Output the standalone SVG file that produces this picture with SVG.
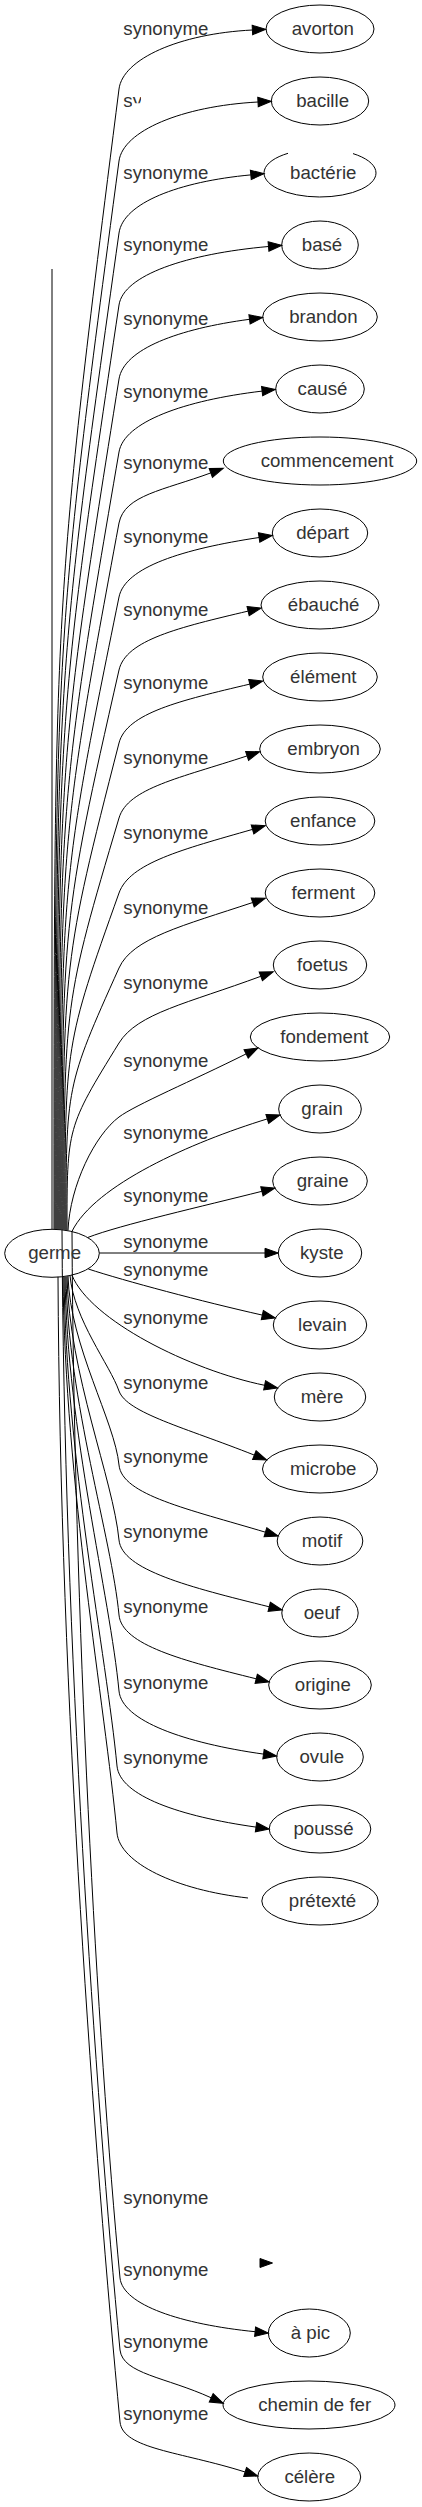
<svg xmlns="http://www.w3.org/2000/svg" width="422" height="2507" viewBox="0 0 422 2507">
<style>
.e{fill:none;stroke:#000;stroke-width:1}
.a{marker-end:url(#arr)}
.n{fill:none;stroke:#000;stroke-width:1}
.t{font-family:"Liberation Sans",Arial,sans-serif;font-size:18.67px;fill:#333;text-anchor:middle}
.l{font-family:"Liberation Sans",Arial,sans-serif;font-size:18.67px;fill:#333;text-anchor:start}
</style>
<defs>
<marker id="arr" viewBox="0 0 13.3 9.4" refX="0" refY="4.7" markerWidth="13.3" markerHeight="9.4" orient="auto" markerUnits="userSpaceOnUse" overflow="visible">
<path d="M0,0 L13.3,4.7 L0,9.4 Z" fill="#000" stroke="#000" stroke-width="1"/>
</marker>
<clipPath id="clipSy"><path d="M118,88 H141 V103.3 H132.4 V112 H118 Z"/></clipPath>
</defs>
<rect width="422" height="2507" fill="#fff"/>
<g id="connectors">
<path class="e" d="M52,269 L52,1229"/>
<path class="e a" d="M54,1229 C54,602 54,602 119,89 C122.8,59 179.1,33.7 252.4,30"/>
<path class="e a" d="M55,1229 C55,641.6 55,641.6 119,161 C123,131 181.6,106.1 258,102"/>
<path class="e a" d="M56,1229 C56,681.2 56,681.2 119,233 C123.2,203 178.6,181.6 250.8,174.9"/>
<path class="e a" d="M57,1229.1 C57,720.9 57,720.9 119,305 C123.5,275 186.6,253.8 268.5,246.5"/>
<path class="e a" d="M58,1229.2 C58,761.7 58,761.7 119,379 C123.8,349 178.3,328.8 249.5,319.3"/>
<path class="e a" d="M59,1229.3 C59,801.9 59,801.9 119,452 C124.1,422 183.9,400.4 262.1,391.1"/>
<path class="e a" d="M60,1229.4 C60,841.1 60,841.1 119,523 C124.6,495 163.4,490.4 210.8,472.9"/>
<path class="e a" d="M61,1229.4 C61,881.8 61,881.8 119,597 C125.1,567 183,549 259.1,537.5"/>
<path class="e a" d="M62,1229.5 C62,921.5 62,921.5 119,670 C125.8,640 179,627.4 248.1,611.1"/>
<path class="e a" d="M63,1229.7 C63,961.8 63,961.8 119,743 C126.7,713 180.3,700.5 249.8,684.1"/>
<path class="e a" d="M64,1229.8 C64,1003.2 64,1003.2 119,818 C127.9,788 180.2,778 247.1,755.9"/>
<path class="e a" d="M65,1229.9 C65,1044.5 65,1044.5 119,893 C129.7,863 181.9,849.6 252.5,829.4"/>
<path class="e a" d="M66,1230.1 C66,1086 66,1086 119,968 C132.5,938 183,925.7 252.7,902.5"/>
<path class="e a" d="M67,1230.2 C67,1127.3 67,1127.3 119,1043 C137.6,1013 187.6,1003.4 260.8,976.3"/>
<path class="e a" d="M68,1230.4 C70,1185 95,1135 119,1117 C135,1105 192.5,1080.7 246.1,1053.9"/>
<path class="e a" d="M72,1231.3 C95,1185 190.8,1142.4 267.3,1118.9"/>
<path class="e a" d="M88,1237.4 C120,1225 203.8,1206 261.9,1191.3"/>
<path class="e a" d="M99.3,1253 L265,1253"/>
<path class="e a" d="M88.3,1269 C125,1281 201.9,1301.5 262.3,1315.1"/>
<path class="e a" d="M72,1275.2 C90,1320 190,1370 264.6,1385.3"/>
<path class="e a" d="M70,1275.6 C74,1320 110,1365 119,1391 C127,1413 185.1,1427.6 254.3,1455.1"/>
<path class="e a" d="M68,1276 C70,1345.9 114.9,1421.5 119,1465 C121.9,1495 188.3,1509.1 265.4,1532.2"/>
<path class="e a" d="M67,1276.4 C69,1373.9 113.2,1479.4 119,1540 C121.9,1570 189.1,1587 269.2,1606.8"/>
<path class="e a" d="M66,1276.6 C68,1401.8 111.6,1537.2 119,1615 C121.9,1645 183,1660.7 256.2,1678.8"/>
<path class="e a" d="M65,1276.8 C67,1430.1 110,1595.7 119,1691 C121.9,1721 184.8,1743 263.5,1754.1"/>
<path class="e a" d="M64,1277 C66,1457.9 106.3,1653.5 117,1766 C119.9,1796 180.3,1816.4 256,1827.1"/>
<path class="e" d="M63,1277 C65,1482.7 104.9,1705.1 117,1833 C119.9,1863 176,1890 248,1898"/>
<polygon points="260,2258.5 272.5,2263 260,2267.5" fill="#000" stroke="#000" stroke-width="1"/>
<path class="e a" d="M72,1231.3 C74,1618.7 97.1,2037.2 120,2278 C122.9,2305 181.2,2324.3 255.1,2331.7"/>
<path class="e a" d="M62,1229.5 C64,1644.1 95.5,2092.3 120,2350 C122.9,2374 165.6,2377 211.2,2397.8"/>
<path class="e a" d="M58,1276.8 C60,1700.5 95,2158.6 120,2422 C122.9,2449 179.7,2451.4 245.1,2472"/>
</g>
<g id="edge-labels">
<text class="l" x="123.3" y="35">synonyme</text>
<text class="l" x="123.3" y="107" clip-path="url(#clipSy)">sy</text>
<text class="l" x="123.3" y="179">synonyme</text>
<text class="l" x="123.3" y="251">synonyme</text>
<text class="l" x="123.3" y="325">synonyme</text>
<text class="l" x="123.3" y="398">synonyme</text>
<text class="l" x="123.3" y="469">synonyme</text>
<text class="l" x="123.3" y="543">synonyme</text>
<text class="l" x="123.3" y="616">synonyme</text>
<text class="l" x="123.3" y="689">synonyme</text>
<text class="l" x="123.3" y="764">synonyme</text>
<text class="l" x="123.3" y="839">synonyme</text>
<text class="l" x="123.3" y="914">synonyme</text>
<text class="l" x="123.3" y="989">synonyme</text>
<text class="l" x="123.3" y="1067">synonyme</text>
<text class="l" x="123.3" y="1139">synonyme</text>
<text class="l" x="123.3" y="1202">synonyme</text>
<text class="l" x="123.3" y="1248">synonyme</text>
<text class="l" x="123.3" y="1276">synonyme</text>
<text class="l" x="123.3" y="1324">synonyme</text>
<text class="l" x="123.3" y="1389">synonyme</text>
<text class="l" x="123.3" y="1463">synonyme</text>
<text class="l" x="123.3" y="1538">synonyme</text>
<text class="l" x="123.3" y="1613">synonyme</text>
<text class="l" x="123.3" y="1689">synonyme</text>
<text class="l" x="123.3" y="1764">synonyme</text>
<text class="l" x="123.3" y="2204">synonyme</text>
<text class="l" x="123.3" y="2276">synonyme</text>
<text class="l" x="123.3" y="2348">synonyme</text>
<text class="l" x="123.3" y="2420">synonyme</text>
</g>
<g id="node-germe"><ellipse class="n" cx="52" cy="1253.3" rx="47.3" ry="24"/><text class="t" x="54.6" y="1258.8">germe</text></g>
<g id="node-avorton"><ellipse class="n" cx="320" cy="29" rx="54" ry="24"/><text class="t" x="322.8" y="34.5">avorton</text></g>
<g id="node-bacille"><ellipse class="n" cx="320" cy="101" rx="48.7" ry="24"/><text class="t" x="322.6" y="106.5">bacille</text></g>
<g id="node-bacterie"><path class="n" d="M353,153.6 A56,24 0 1 1 288,153.3"/><text class="t" x="323.3" y="178.5">bactérie</text></g>
<g id="node-base"><ellipse class="n" cx="320" cy="245" rx="38.3" ry="24"/><text class="t" x="322" y="250.5">basé</text></g>
<g id="node-brandon"><ellipse class="n" cx="320" cy="317" rx="57.3" ry="24"/><text class="t" x="323.4" y="322.5">brandon</text></g>
<g id="node-cause"><ellipse class="n" cx="320" cy="389" rx="44.3" ry="24"/><text class="t" x="322.5" y="394.5">causé</text></g>
<g id="node-commencement"><ellipse class="n" cx="320" cy="461" rx="96.7" ry="24"/><text class="t" x="327" y="466.5">commencement</text></g>
<g id="node-depart"><ellipse class="n" cx="320" cy="533" rx="47.7" ry="24"/><text class="t" x="322.6" y="538.5">départ</text></g>
<g id="node-ebauche"><ellipse class="n" cx="320" cy="605" rx="59" ry="24"/><text class="t" x="323.6" y="610.5">ébauché</text></g>
<g id="node-element"><ellipse class="n" cx="320" cy="677" rx="57.3" ry="24"/><text class="t" x="323.3" y="682.5">élément</text></g>
<g id="node-embryon"><ellipse class="n" cx="320" cy="749" rx="60.3" ry="24"/><text class="t" x="323.6" y="754.5">embryon</text></g>
<g id="node-enfance"><ellipse class="n" cx="320" cy="821" rx="54.8" ry="24"/><text class="t" x="323.3" y="826.5">enfance</text></g>
<g id="node-ferment"><ellipse class="n" cx="320" cy="893" rx="54.8" ry="24"/><text class="t" x="323.2" y="898.5">ferment</text></g>
<g id="node-foetus"><ellipse class="n" cx="320" cy="965" rx="46.7" ry="24"/><text class="t" x="322.5" y="970.5">foetus</text></g>
<g id="node-fondement"><ellipse class="n" cx="320" cy="1037" rx="69.7" ry="24"/><text class="t" x="324.4" y="1042.5">fondement</text></g>
<g id="node-grain"><ellipse class="n" cx="320" cy="1109" rx="41.3" ry="24"/><text class="t" x="322.1" y="1114.5">grain</text></g>
<g id="node-graine"><ellipse class="n" cx="320" cy="1181" rx="47.3" ry="24"/><text class="t" x="322.6" y="1186.5">graine</text></g>
<g id="node-kyste"><ellipse class="n" cx="320" cy="1253" rx="41.7" ry="24"/><text class="t" x="321.8" y="1258.5">kyste</text></g>
<g id="node-levain"><ellipse class="n" cx="320" cy="1325" rx="46.7" ry="24"/><text class="t" x="322.4" y="1330.5">levain</text></g>
<g id="node-mere"><ellipse class="n" cx="320" cy="1397" rx="45.7" ry="24"/><text class="t" x="322.1" y="1402.5">mère</text></g>
<g id="node-microbe"><ellipse class="n" cx="320" cy="1469" rx="57.5" ry="24"/><text class="t" x="323.3" y="1474.5">microbe</text></g>
<g id="node-motif"><ellipse class="n" cx="320" cy="1541" rx="42.8" ry="24"/><text class="t" x="322" y="1546.5">motif</text></g>
<g id="node-oeuf"><ellipse class="n" cx="320" cy="1613" rx="38.2" ry="24"/><text class="t" x="321.8" y="1618.5">oeuf</text></g>
<g id="node-origine"><ellipse class="n" cx="320" cy="1685" rx="51.3" ry="24"/><text class="t" x="322.8" y="1690.5">origine</text></g>
<g id="node-ovule"><ellipse class="n" cx="320" cy="1757" rx="43.3" ry="24"/><text class="t" x="321.8" y="1762.5">ovule</text></g>
<g id="node-pousse"><ellipse class="n" cx="320" cy="1829" rx="50.8" ry="24"/><text class="t" x="323.5" y="1834.5">poussé</text></g>
<g id="node-pretexte"><ellipse class="n" cx="320" cy="1901" rx="58.2" ry="24"/><text class="t" x="322.5" y="1906.5">prétexté</text></g>
<g id="node-a-pic"><ellipse class="n" cx="309.3" cy="2333" rx="41" ry="24"/><text class="t" x="310.5" y="2338.5">à pic</text></g>
<g id="node-chemin-de-fer"><ellipse class="n" cx="309" cy="2405" rx="86" ry="24"/><text class="t" x="314.7" y="2410.5">chemin de fer</text></g>
<g id="node-celere"><ellipse class="n" cx="309.2" cy="2477" rx="51.5" ry="24"/><text class="t" x="309.8" y="2482.5">célère</text></g>
</svg>
